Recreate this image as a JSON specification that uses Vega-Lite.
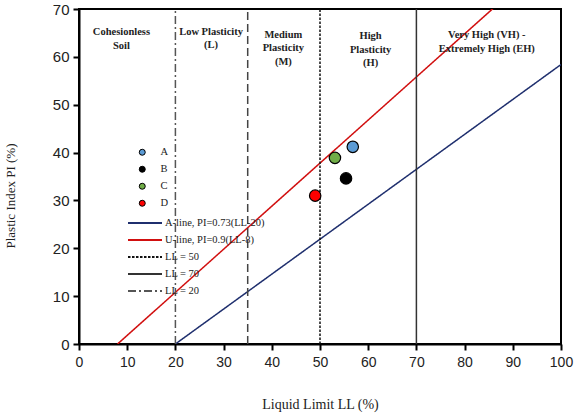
{
  "$schema": "https://vega.github.io/schema/vega-lite/v6.json",
  "width": 482,
  "height": 335,
  "autosize": {"type": "none"},
  "padding": {"left": 79, "top": 9, "right": 13, "bottom": 69},
  "background": "white",
  "config": {
    "view": {"stroke": "black", "strokeWidth": 2},
    "axis": {
      "grid": false,
      "domainColor": "black",
      "domainWidth": 2,
      "tickColor": "black",
      "tickWidth": 2,
      "tickSize": 6,
      "labelFlush": false,
      "labelOverlap": false,
      "labelFont": "Liberation Sans",
      "labelColor": "#222",
      "titleFont": "Liberation Serif",
      "titleFontWeight": "normal",
      "titleFontSize": 14,
      "titleColor": "#222"
    },
    "legend": {
      "labelFont": "Liberation Serif",
      "labelFontSize": 10.5,
      "labelColor": "#222",
      "padding": 0
    }
  },
  "datasets": {
    "lines": [
      {"line": "A-line, PI=0.73(LL-20)", "LL": 20, "PI": 0},
      {"line": "A-line, PI=0.73(LL-20)", "LL": 100, "PI": 58.4},
      {"line": "U-line, PI=0.9(LL-8)", "LL": 8, "PI": 0},
      {"line": "U-line, PI=0.9(LL-8)", "LL": 100, "PI": 82.8},
      {"line": "LL = 50", "LL": 50, "PI": 0},
      {"line": "LL = 50", "LL": 50, "PI": 70},
      {"line": "LL = 70", "LL": 70, "PI": 0},
      {"line": "LL = 70", "LL": 70, "PI": 70},
      {"line": "LL = 20", "LL": 20, "PI": 0},
      {"line": "LL = 20", "LL": 20, "PI": 70},
      {"line": "LL = 35", "LL": 35, "PI": 0},
      {"line": "LL = 35", "LL": 35, "PI": 70}
    ],
    "zones": [
      {"zone": ["Cohesionless", "Soil"], "LL": 8.8, "PI": 66.2},
      {"zone": ["Low Plasticity", "(L)"], "LL": 27.4, "PI": 66.3},
      {"zone": ["Medium", "Plasticity", "(M)"], "LL": 42.4, "PI": 65.7},
      {"zone": ["High", "Plasticity", "(H)"], "LL": 60.5, "PI": 65.4},
      {"zone": ["Very High (VH) -", "Extremely High (EH)"], "LL": 84.6, "PI": 65.6}
    ],
    "samples": [
      {"sample": "A", "LL": 56.8, "PI": 41.2},
      {"sample": "B", "LL": 55.4, "PI": 34.6},
      {"sample": "C", "LL": 53.1, "PI": 38.9},
      {"sample": "D", "LL": 49.0, "PI": 31.0}
    ]
  },
  "layer": [
    {
      "data": {"name": "lines"},
      "mark": {"type": "line", "clip": true, "strokeWidth": 1.5},
      "encoding": {
        "x": {
          "field": "LL", "type": "quantitative",
          "scale": {"domain": [0, 100], "nice": false},
          "axis": {"values": [0,10,20,30,40,50,60,70,80,90,100], "labelFontSize": 14, "labelPadding": 5, "title": "Liquid Limit LL (%)", "titlePadding": 28}
        },
        "y": {
          "field": "PI", "type": "quantitative",
          "scale": {"domain": [0, 70], "nice": false},
          "axis": {"values": [0,10,20,30,40,50,60,70], "labelFontSize": 15, "labelPadding": 4, "title": "Plastic Index PI (%)", "titleFontSize": 13, "titleX": -62, "titleY": 186.5}
        },
        "stroke": {
          "field": "line", "type": "nominal",
          "scale": {
            "domain": ["A-line, PI=0.73(LL-20)", "U-line, PI=0.9(LL-8)", "LL = 50", "LL = 70", "LL = 20", "LL = 35"],
            "range": ["#1f2f6e", "#d10f0f", "#111111", "#333333", "#555555", "#444444"]
          },
          "legend": {
            "title": null,
            "orient": "none",
            "legendX": 48,
            "legendY": 205.5,
            "symbolType": "stroke",
            "symbolSize": 1156,
            "symbolStrokeWidth": 2,
            "labelOffset": 2,
            "clipHeight": 17,
            "rowPadding": 0,
            "values": ["A-line, PI=0.73(LL-20)", "U-line, PI=0.9(LL-8)", "LL = 50", "LL = 70", "LL = 20"]
          }
        },
        "strokeDash": {
          "field": "line", "type": "nominal",
          "scale": {
            "domain": ["A-line, PI=0.73(LL-20)", "U-line, PI=0.9(LL-8)", "LL = 50", "LL = 70", "LL = 20", "LL = 35"],
            "range": [[1, 0], [1, 0], [2.5, 1.5], [1, 0], [8, 3, 2, 3], [8, 4]]
          },
          "legend": {
            "title": null,
            "orient": "none",
            "legendX": 48,
            "legendY": 205.5,
            "symbolType": "stroke",
            "symbolSize": 1156,
            "symbolStrokeWidth": 2,
            "labelOffset": 2,
            "clipHeight": 17,
            "rowPadding": 0,
            "values": ["A-line, PI=0.73(LL-20)", "U-line, PI=0.9(LL-8)", "LL = 50", "LL = 70", "LL = 20"]
          }
        }
      }
    },
    {
      "data": {"name": "zones"},
      "mark": {"type": "text", "font": "Liberation Serif", "fontWeight": "bold", "fontSize": 10.5, "baseline": "top", "lineHeight": 13.5, "color": "#222"},
      "encoding": {
        "x": {"field": "LL", "type": "quantitative"},
        "y": {"field": "PI", "type": "quantitative"},
        "text": {"field": "zone"}
      }
    },
    {
      "data": {"name": "samples"},
      "mark": {"type": "circle", "size": 130, "stroke": "black", "strokeWidth": 1.2, "opacity": 1},
      "encoding": {
        "x": {"field": "LL", "type": "quantitative"},
        "y": {"field": "PI", "type": "quantitative"},
        "fill": {
          "field": "sample", "type": "nominal",
          "scale": {"domain": ["A", "B", "C", "D"], "range": ["#5b9bd5", "#000000", "#70ad47", "#ff0000"]},
          "legend": {
            "title": null,
            "orient": "none",
            "legendX": 58,
            "legendY": 138,
            "symbolType": "circle",
            "symbolSize": 36,
            "symbolStrokeColor": "black",
            "symbolStrokeWidth": 1,
            "labelOffset": 13,
            "rowPadding": 6
          }
        }
      }
    }
  ]
}
